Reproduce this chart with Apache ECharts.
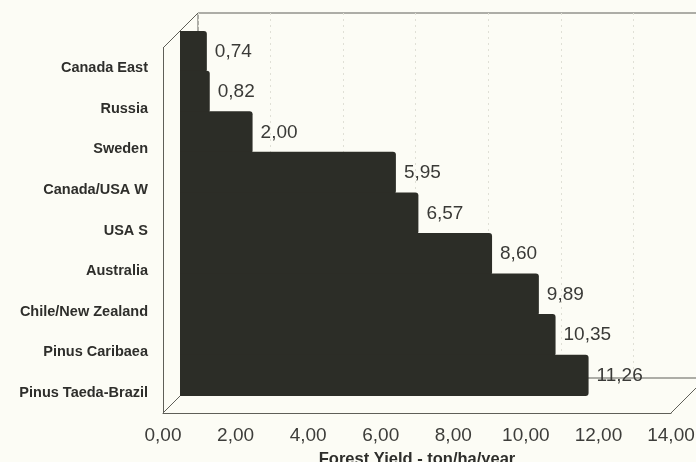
<!DOCTYPE html>
<html>
<head>
<meta charset="utf-8">
<title>Forest Yield</title>
<script src="https://cdn.jsdelivr.net/npm/echarts@6/dist/echarts.min.js"></script>
<style>
  html, body { margin: 0; padding: 0; background: #fcfcf5; }
  #chart { width: 696px; height: 462px; }
</style>
</head>
<body>
<div id="chart"></div>
<script>
// Forest yield by region / species (ton/ha/year)
const categories = ['Canada East', 'Russia', 'Sweden', 'Canada/USA W', 'USA S',
  'Australia', 'Chile/New Zealand', 'Pinus Caribaea', 'Pinus Taeda-Brazil'];
const yieldValues = [0.74, 0.82, 2.00, 5.95, 6.57, 8.60, 9.89, 10.35, 11.26];
const axisMin = 0;
const axisMax = 14;
const axisStep = 2;
const axisTitle = 'Forest Yield - ton/ha/year';

// Pseudo-3D box: a front plane (axes), a middle plane (bars) and a back wall,
// each shifted up-right by the same depth step.
const PLANE = { left: 163, top: 48, width: 508, height: 365 };
const DEPTH = 35;
const BAR_DEPTH = 17;
const FONT = '"Liberation Sans", Arial, sans-serif';
const FRAME = '#5f5f58';
const BAR = '#2c2d27';

function plane(shift, extra) {
  return Object.assign({
    left: PLANE.left + shift, top: PLANE.top - shift,
    width: PLANE.width, height: PLANE.height,
    containLabel: false, outerBoundsMode: 'none'
  }, extra || {});
}
const fmt = v => Number(v).toFixed(2).replace('.', ',');

const chart = echarts.init(document.getElementById('chart'));

const L = PLANE.left, T = PLANE.top, R = PLANE.left + PLANE.width, B = PLANE.top + PLANE.height;
const frameLine = (x1, y1, x2, y2) => ({
  type: 'line', silent: true,
  shape: { x1, y1, x2, y2 },
  style: { stroke: FRAME, lineWidth: 1 }
});

chart.setOption({
  backgroundColor: '#fcfcf5',
  animation: false,
  grid: [
    plane(0),
    plane(BAR_DEPTH),
    plane(DEPTH, { show: true, borderColor: FRAME, borderWidth: 1, backgroundColor: 'transparent' })
  ],
  graphic: [
    frameLine(L, T, L + DEPTH, T - DEPTH),
    frameLine(L, B, L + DEPTH, B - DEPTH),
    frameLine(R, B, R + DEPTH, B - DEPTH)
  ],
  xAxis: [
    {
      gridIndex: 0, type: 'value', min: axisMin, max: axisMax, interval: axisStep,
      axisLine: { show: true, lineStyle: { color: FRAME, width: 1 } },
      axisTick: { show: false },
      splitLine: { show: false },
      axisLabel: { formatter: fmt, fontFamily: FONT, fontSize: 19, color: '#3d3d3a', margin: 13 },
      name: axisTitle, nameLocation: 'middle', nameGap: 38,
      nameTextStyle: { fontFamily: FONT, fontSize: 16.5, fontWeight: 'bold', color: '#2e2e2b' }
    },
    {
      gridIndex: 1, type: 'value', min: axisMin, max: axisMax, interval: axisStep,
      show: false
    },
    {
      gridIndex: 2, type: 'value', min: axisMin, max: axisMax, interval: axisStep,
      axisLine: { show: false }, axisTick: { show: false }, axisLabel: { show: false },
      splitLine: { show: true, lineStyle: { color: '#e0e0d6', type: [2, 4], width: 1 } }
    }
  ],
  yAxis: [
    {
      gridIndex: 0, type: 'category', data: categories, inverse: true,
      axisLine: { show: true, lineStyle: { color: FRAME, width: 1 } },
      axisTick: { show: false },
      axisLabel: { fontFamily: FONT, fontSize: 14.5, fontWeight: 'bold', color: '#2e2e2b', margin: 15 }
    },
    { gridIndex: 1, type: 'category', data: categories, inverse: true, show: false },
    { gridIndex: 2, type: 'category', data: categories, inverse: true, show: false }
  ],
  series: [{
    type: 'bar',
    xAxisIndex: 1, yAxisIndex: 1,
    data: yieldValues,
    // slightly wider than the band so neighbouring bars merge into one stepped block
    barWidth: '104%',
    itemStyle: { color: BAR, borderWidth: 0, borderRadius: [0, 3, 3, 0] },
    label: {
      show: true, position: 'right', distance: 8,
      formatter: p => fmt(p.value),
      fontFamily: FONT, fontSize: 19, color: '#3a3a37'
    }
  }]
});
</script>
</body>
</html>
